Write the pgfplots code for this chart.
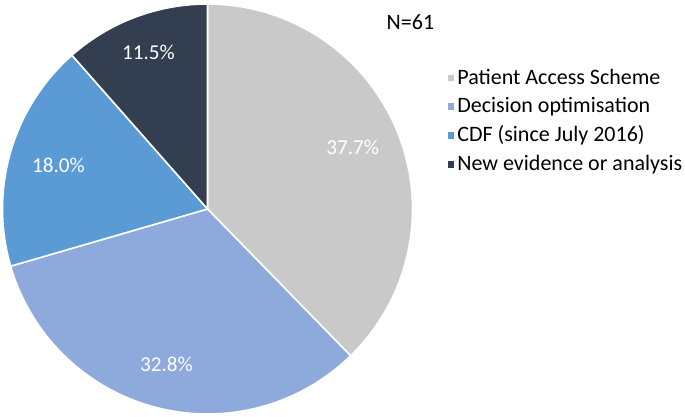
\documentclass[border=0pt]{standalone}
\usepackage{fontspec}
\setmainfont{Carlito}
\usepackage{pgfplots}
\pgfplotsset{compat=1.18}
\definecolor{cA}{HTML}{C9C9C9}
\definecolor{cB}{HTML}{8EA9DB}
\definecolor{cC}{HTML}{5B9BD5}
\definecolor{cD}{HTML}{333F50}
% shares (percent)
\def\pA{37.7}\def\pB{32.8}\def\pC{18.0}\def\pD{11.5}
\pgfmathsetmacro\aZ{90}
\pgfmathsetmacro\aA{\aZ-3.6*\pA}
\pgfmathsetmacro\aB{\aA-3.6*\pB}
\pgfmathsetmacro\aC{\aB-3.6*\pC}
\pgfmathsetmacro\aD{\aC-3.6*\pD}
\pgfmathsetmacro\mA{(\aZ+\aA)/2}
\pgfmathsetmacro\mB{(\aA+\aB)/2}
\pgfmathsetmacro\mC{(\aB+\aC)/2}
\pgfmathsetmacro\mD{(\aC+\aD)/2}
\begin{document}
\begin{tikzpicture}
\begin{axis}[
  name=pie,
  scale only axis, width=342.5pt, height=208.5pt,
  xmin=-1.0122, xmax=2.3293, ymin=-1.0146, ymax=1.0195,
  hide axis, clip=false,
  font=\fontsize{10.6}{12}\selectfont,
  legend style={at={(rel axis cs:0.651,0.843)}, anchor=north west, draw=none, fill=none,
    font=\fontsize{11.0}{13}\selectfont, row sep=2.1pt, inner sep=0pt,
    nodes={inner sep=1.5pt}},
  legend cell align=left,
  legend image code/.code={\path (0pt,0pt); \fill[#1,draw=none] (0.3pt,-1.7pt) rectangle (3.6pt,1.7pt);},
]
\addplot[fill=cA, draw=white, line width=0.8pt, domain=\aA:\aZ, samples=120, variable=\t]
  ({cos(\t)},{sin(\t)}) -- (axis cs:0,0) -- cycle;
\addlegendentry{Patient Access Scheme}
\addplot[fill=cB, draw=white, line width=0.8pt, domain=\aB:\aA, samples=120, variable=\t]
  ({cos(\t)},{sin(\t)}) -- (axis cs:0,0) -- cycle;
\addlegendentry{Decision optimisation}
\addplot[fill=cC, draw=white, line width=0.8pt, domain=\aC:\aB, samples=80, variable=\t]
  ({cos(\t)},{sin(\t)}) -- (axis cs:0,0) -- cycle;
\addlegendentry{CDF (since July 2016)}
\addplot[fill=cD, draw=white, line width=0.8pt, domain=\aD:\aC, samples=60, variable=\t]
  ({cos(\t)},{sin(\t)}) -- (axis cs:0,0) -- cycle;
\addlegendentry{New evidence or analysis}
\node[white] at (axis cs:{0.77*cos(\mA+1)},{0.77*sin(\mA+1)}) {37.7\%};
\node[white] at (axis cs:{0.785*cos(\mB)},{0.785*sin(\mB)}) {32.8\%};
\node[white] at (axis cs:{0.757*cos(\mC)},{0.757*sin(\mC)}) {18.0\%};
\node[white] at (axis cs:{0.815*cos(\mD)},{0.815*sin(\mD)}) {11.5\%};
\node[font=\fontsize{11}{13}\selectfont] at (axis cs:0.99,0.91) {N=61};
\end{axis}
\pgfresetboundingbox
\path (pie.south west) rectangle (pie.north east);
\end{tikzpicture}
\end{document}
